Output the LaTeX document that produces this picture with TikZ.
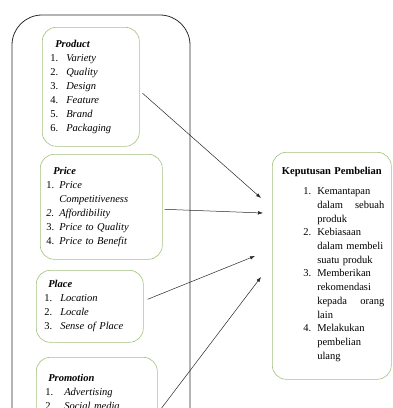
\documentclass[tikz,border=0pt]{standalone}
\usepackage{fontspec}
\setmainfont{Liberation Serif}
\usepackage{tikz}
\usetikzlibrary{arrows.meta, positioning}
\definecolor{boxgreen}{HTML}{A3C27F}
\definecolor{framegray}{HTML}{2B2B2B}
\definecolor{arrowgray}{HTML}{262626}
% numbered item: number column width, number, italic text
\newcommand{\numit}[3]{\makebox[#1][l]{#2}\textit{#3}}
% line of the result list
\newcommand{\kline}[2]{\makebox[105pt][l]{\hspace*{24pt}\makebox[14pt][l]{#1}#2}}
\newcommand{\jline}[2]{\makebox[67pt][l]{#1\hfill#2}}

\begin{document}
\begin{tikzpicture}[
  x=1pt, y=-1pt,
  dimbox/.style={rectangle, rounded corners=14pt, draw=boxgreen, line width=0.6pt,
                 fill=white, align=left, anchor=north west, inner ysep=0pt,
                 font=\fontsize{10.5}{14}\selectfont},
  resultbox/.style={dimbox, align=center, inner xsep=7pt, text width=105pt,
                    font=\fontsize{10.5}{13.7}\selectfont},
  frame/.style={draw=framegray, line width=0.8pt, rounded corners=30pt},
  arrow/.style={-{Latex[length=5pt, width=3.6pt]}, line width=0.5pt, color=arrowgray}
]
  \useasboundingbox (0,0) rectangle (392,408);
  \clip (0,0) rectangle (392,408);

  \draw[frame] (12,15) rectangle (190,480);

  \node[dimbox, inner xsep=8pt, text width=81pt, minimum height=119pt] (product) at (42,27)
    {\hspace*{5pt}\textbf{\textit{Product}}\\
     \numit{16pt}{1.}{Variety}\\
     \numit{16pt}{2.}{Quality}\\
     \numit{16pt}{3.}{Design}\\
     \numit{16pt}{4.}{Feature}\\
     \numit{16pt}{5.}{Brand}\\
     \numit{16pt}{6.}{Packaging}};

  \node[dimbox, inner xsep=6pt, text width=110pt, minimum height=105pt] (price) at (40,154)
    {\hspace*{7pt}\textbf{\textit{Price}}\\
     \numit{13pt}{1.}{Price}\\
     \hspace*{13pt}\textit{Competitiveness}\\
     \numit{13pt}{\textit{2.}}{Affordibility}\\
     \numit{13pt}{3.}{Price to Quality}\\
     \numit{13pt}{4.}{Price to Benefit}};

  \node[dimbox, inner xsep=8pt, text width=91pt, minimum height=72pt] (place) at (36,270)
    {\hspace*{4pt}\textbf{\textit{Place}}\\
     \numit{16pt}{1.}{Location}\\
     \numit{16pt}{2.}{Locale}\\
     \numit{16pt}{3.}{Sense of Place}};

  \node[dimbox, inner xsep=9pt, inner ysep=17pt, text width=103pt] (promotion) at (36,357)
    {\hspace*{3pt}\textbf{\textit{Promotion}}\\
     \numit{19pt}{1.}{Advertising}\\
     \numit{19pt}{2.}{Social media}};

  \node[resultbox, minimum height=227pt] (decision) at (272,152)
    {\textbf{Keputusan Pembelian}\\[6.3pt]
     \kline{1.}{Kemantapan}\\
     \kline{}{\jline{dalam}{sebuah}}\\
     \kline{}{produk}\\
     \kline{2.}{Kebiasaan}\\
     \kline{}{dalam membeli}\\
     \kline{}{suatu produk}\\
     \kline{3.}{Memberikan}\\
     \kline{}{rekomendasi}\\
     \kline{}{\jline{kepada}{orang}}\\
     \kline{}{lain}\\
     \kline{4.}{Melakukan}\\
     \kline{}{pembelian}\\
     \kline{}{ulang\rule[-5pt]{0pt}{5pt}}};

  % arrow ends in front of the decision box
  \coordinate (toproduct) at (261,198);
  \coordinate (toprice) at (263,213);
  \coordinate (toplace) at (255,256);
  \coordinate (topromotion) at (261,277);

  \draw[arrow] ([shift={(3,6.5)}]product.east) -- (toproduct);
  \draw[arrow] ([shift={(2,2.5)}]price.east) -- (toprice);
  \draw[arrow] ([shift={(4,-7)}]place.east) -- (toplace);
  \draw[arrow] ([shift={(1,20)}]promotion.east) -- (topromotion);
\end{tikzpicture}
\end{document}
